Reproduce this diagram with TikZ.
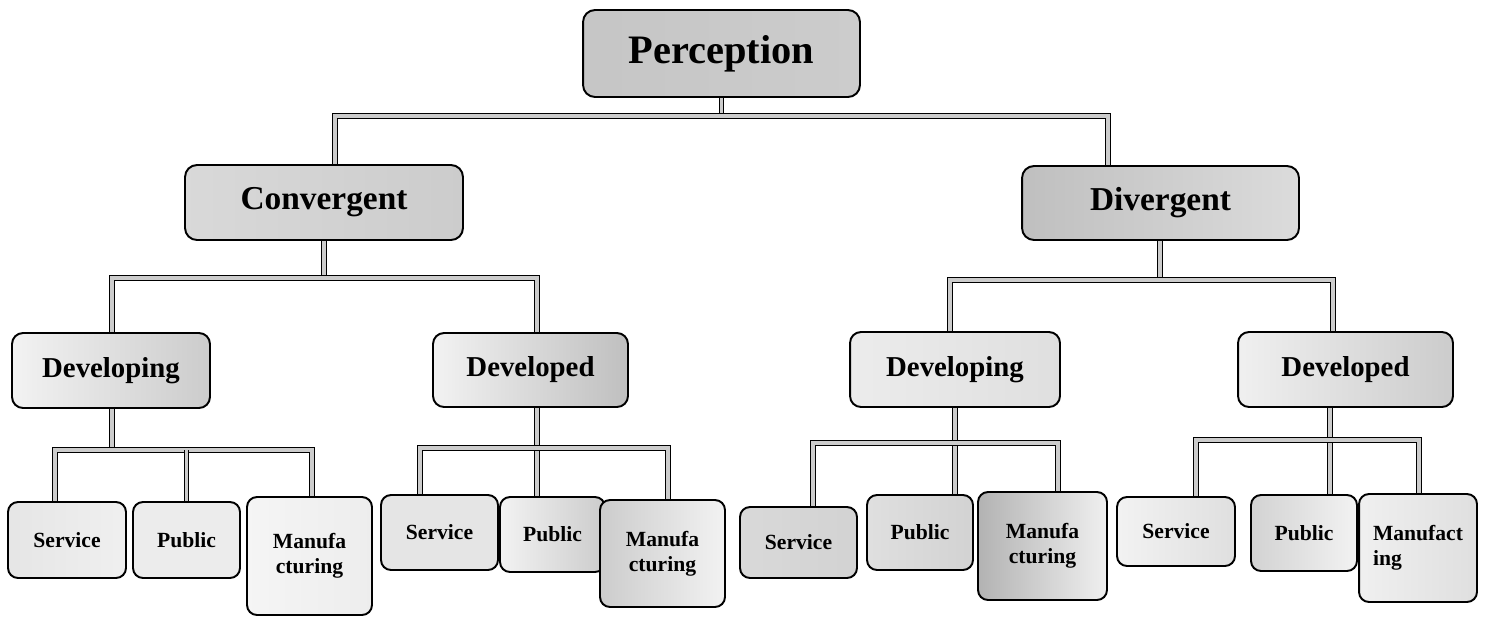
\documentclass[tikz,border=0pt]{standalone}
\usepackage{fontspec}
\setmainfont{Liberation Serif}
\usepackage{tikz}
\usetikzlibrary{calc,backgrounds}
\tikzset{
  headbox/.style={
    rectangle, rounded corners=0.24cm, draw=black, line width=1.1pt,
    inner sep=0pt, outer sep=0pt, align=center,
    font=\fontsize{23}{26}\selectfont\bfseries
  },
  groupbox/.style={
    headbox, font=\fontsize{19}{22}\selectfont\bfseries
  },
  levelbox/.style={
    headbox, rounded corners=0.22cm,
    font=\fontsize{16.4}{19}\selectfont\bfseries
  },
  sectorbox/.style={
    headbox, rounded corners=0.2cm,
    font=\fontsize{12.3}{14}\selectfont\bfseries
  },
  pipe/.style={draw=black, line width=0.6pt, double=gray!40,
    double distance=2.2pt}
}

\begin{document}
\begin{tikzpicture}[x=0.02cm, y=-0.02cm]
  \useasboundingbox (0,0) rectangle (1493,616);

  % top
  \node[headbox, minimum width=5.54cm, minimum height=1.74cm,
    left color=gray!45, middle color=gray!25, right color=gray!40] (perc)
    at (721.5,53.5) {Perception};

  % second level
  \node[groupbox, minimum width=5.56cm, minimum height=1.5cm,
    left color=gray!30, middle color=gray!8, right color=gray!40] (conv)
    at (324,202.5) {Convergent};
  \node[groupbox, minimum width=5.54cm, minimum height=1.48cm,
    left color=gray!50, middle color=gray!10, right color=gray!28] (div)
    at (1160.5,203) {Divergent};

  % third level
  \node[levelbox, minimum width=3.96cm, minimum height=1.5cm,
    left color=gray!10, middle color=gray!15, right color=gray!40] (devg1)
    at (111,370.5) {Developing};
  \node[levelbox, minimum width=3.9cm, minimum height=1.48cm,
    left color=gray!10, middle color=gray!20, right color=gray!50] (devd1)
    at (530.5,370) {Developed};
  \node[levelbox, minimum width=4.2cm, minimum height=1.5cm,
    left color=gray!15, middle color=gray!35, right color=gray!25] (devg2)
    at (955,369.5) {Developing};
  \node[levelbox, minimum width=4.3cm, minimum height=1.5cm,
    left color=gray!12, middle color=gray!15, right color=gray!40] (devd2)
    at (1345.5,369.5) {Developed};

  % sectors
  \node[sectorbox, minimum width=2.36cm, minimum height=1.52cm,
    left color=gray!20, right color=gray!12] (s1)
    at (67,540) {Service};
  \node[sectorbox, minimum width=2.14cm, minimum height=1.52cm,
    left color=gray!15, middle color=gray!28, right color=gray!15] (p1)
    at (186.5,540) {Public};
  \node[sectorbox, minimum width=2.5cm, minimum height=2.36cm,
    left color=gray!8, right color=gray!14] (m1)
    at (309.5,556) {Manufa\\cturing};

  \node[sectorbox, minimum width=2.34cm, minimum height=1.5cm,
    left color=gray!20, middle color=gray!35, right color=gray!20] (s2)
    at (439.5,532.5) {Service};
  \node[sectorbox, minimum width=2.1cm, minimum height=1.5cm,
    left color=gray!10, right color=gray!40] (p2)
    at (552.5,534.5) {Public};
  \node[sectorbox, minimum width=2.5cm, minimum height=2.14cm,
    left color=gray!40, middle color=gray!20, right color=gray!10] (m2)
    at (662.5,553.5) {Manufa\\cturing};

  \node[sectorbox, minimum width=2.34cm, minimum height=1.42cm,
    left color=gray!30, right color=gray!35] (s3)
    at (798.5,542.5) {Service};
  \node[sectorbox, minimum width=2.12cm, minimum height=1.5cm,
    left color=gray!25, middle color=gray!15, right color=gray!35] (p3)
    at (920,532.5) {Public};
  \node[sectorbox, minimum width=2.58cm, minimum height=2.16cm,
    left color=gray!60, middle color=gray!30, right color=gray!12] (m3)
    at (1042.5,546) {Manufa\\cturing};

  \node[sectorbox, minimum width=2.36cm, minimum height=1.38cm,
    left color=gray!10, right color=gray!25] (s4)
    at (1176,531.5) {Service};
  \node[sectorbox, minimum width=2.12cm, minimum height=1.52cm,
    left color=gray!35, middle color=gray!10, right color=gray!10] (p4)
    at (1304,533) {Public};
  \node[sectorbox, minimum width=2.36cm, minimum height=2.16cm, align=left,
    left color=gray!12, right color=gray!25] (m4)
    at (1418,548) {Manufact\\ing};

  % Connectors
  \begin{scope}[on background layer]
    \draw[pipe] (perc.south) -- ++(0,19) coordinate (percbar);
    \draw[pipe] ($(conv.north)+(11,0)$) |- (percbar) -| ($(div.north)+(-52.5,0)$);

    \draw[pipe] (conv.south) -- ++(0,38) coordinate (convbar);
    \draw[pipe] ($(devg1.north)+(1,0)$) |- (convbar) -| ($(devd1.north)+(6.5,0)$);

    \draw[pipe] ($(div.south)+(-0.5,0)$) -- ++(0,40) coordinate (divbar);
    \draw[pipe] ($(devg2.north)+(-5,0)$) |- (divbar) -| ($(devd2.north)+(-12.5,0)$);

    \draw[pipe] ($(devg1.south)+(1,0)$) -- ++(0,42) coordinate (devg1bar);
    \draw[pipe] ($(s1.north)+(-12,0)$) |- (devg1bar) -| ($(m1.north)+(2.5,0)$);
    \draw[pipe] (devg1bar -| p1.north) -- (p1.north);

    \draw[pipe] ($(devd1.south)+(6.5,0)$) -- ++(0,41) coordinate (devd1bar)
      -- ($(p2.north)+(-15.5,0)$);
    \draw[pipe] ($(s2.north)+(-19.5,0)$) |- (devd1bar) -| ($(m2.north)+(5.5,0)$);

    \draw[pipe] (devg2.south) -- ++(0,36) coordinate (devg2bar)
      -- ($(p3.north)+(35,0)$);
    \draw[pipe] ($(s3.north)+(14.5,0)$) |- (devg2bar) -| ($(m3.north)+(15.5,0)$);

    \draw[pipe] ($(devd2.south)+(-15.5,0)$) -- ++(0,33) coordinate (devd2bar)
      -- ($(p4.north)+(26,0)$);
    \draw[pipe] ($(s4.north)+(20,0)$) |- (devd2bar) -| ($(m4.north)+(1,0)$);
  \end{scope}
\end{tikzpicture}
\end{document}
